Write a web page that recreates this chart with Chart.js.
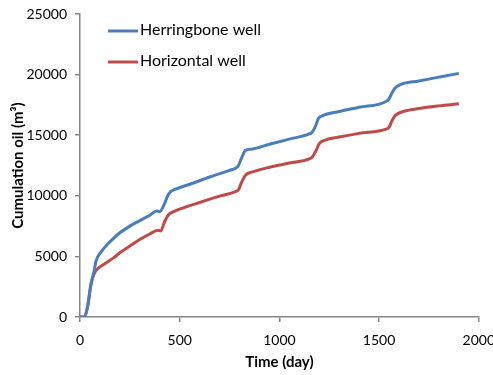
<!DOCTYPE html>
<html>
<head>
<meta charset="utf-8">
<script src="https://cdn.jsdelivr.net/npm/chart.js@4/dist/chart.umd.min.js"></script>
<style>
  html, body { margin: 0; padding: 0; background: #fff; overflow: hidden; }
  #wrap { width: 505px; height: 375px; position: relative; }
</style>
</head>
<body>
<div id="wrap"><canvas id="oilChart"></canvas></div>
<script>
// Cumulative oil (m3) vs time (day)
const blueDays = [0, 22, 38, 55, 72, 80, 105, 150, 200, 250, 300, 350, 385, 400, 420, 440, 455, 480,
                  550, 650, 750, 780, 795, 810, 830, 860, 950, 1050, 1150, 1165, 1180, 1195, 1215,
                  1300, 1400, 1535, 1550, 1565, 1580, 1610, 1700, 1800, 1900];
const blueOil  = [0, 0, 850, 2700, 3900, 4600, 5350, 6200, 6950, 7500, 7950, 8400, 8750, 8700, 9200, 10000, 10350, 10550,
                  10950, 11550, 12100, 12270, 12500, 13100, 13750, 13850, 14250, 14680, 15100, 15250, 15700, 16350, 16600,
                  16950, 17300, 17780, 18000, 18500, 18900, 19200, 19480, 19790, 20100];

const redDays = [0, 22, 38, 55, 72, 90, 130, 170, 200, 250, 300, 350, 390, 405, 425, 445, 470, 500,
                 600, 700, 780, 795, 810, 830, 870, 950, 1050, 1150, 1165, 1180, 1200, 1230,
                 1300, 1400, 1535, 1550, 1565, 1580, 1620, 1700, 1800, 1900];
const redOil  = [0, 0, 850, 2700, 3600, 4000, 4450, 4900, 5300, 5850, 6400, 6850, 7150, 7100, 7900, 8450, 8700, 8900,
                 9450, 9970, 10350, 10500, 11100, 11700, 11990, 12350, 12700, 13050, 13200, 13600, 14300, 14600,
                 14850, 15150, 15500, 15650, 16200, 16600, 16950, 17200, 17420, 17600];

const seriesNames = ['Herringbone well', 'Horizontal well'];
const seriesColors = ['#4A7EBB', '#BE4B48'];

const axisGrey = '#868686';
const fontFamily = 'Lato, "Open Sans", sans-serif';

function toPoints(days, vals) {
    return days.map((d, i) => ({ x: d, y: vals[i] }));
}

// legend drawn inside the plot, Excel style
const insideLegend = {
    id: 'insideLegend',
    afterDraw(chart) {
        const ctx = chart.ctx;
        const rows = [31, 62];
        ctx.save();
        ctx.font = '16px ' + fontFamily;
        ctx.textBaseline = 'middle';
        ctx.textAlign = 'left';
        chart.data.datasets.forEach((ds, i) => {
            const y = rows[i];
            ctx.strokeStyle = ds.borderColor;
            ctx.lineWidth = 3;
            ctx.beginPath();
            ctx.moveTo(108, y);
            ctx.lineTo(138, y);
            ctx.stroke();
            ctx.fillStyle = '#000';
            ctx.fillText(ds.label, 140, y - 1);
        });
        ctx.restore();
    }
};

const ctx = document.getElementById('oilChart').getContext('2d');
const oilChart = new Chart(ctx, {
    type: 'line',
    data: {
        datasets: [
            {
                label: seriesNames[0],
                data: toPoints(blueDays, blueOil),
                borderColor: seriesColors[0],
                borderWidth: 3,
                pointRadius: 0,
                cubicInterpolationMode: 'monotone',
                fill: false
            },
            {
                label: seriesNames[1],
                data: toPoints(redDays, redOil),
                borderColor: seriesColors[1],
                borderWidth: 3,
                pointRadius: 0,
                cubicInterpolationMode: 'monotone',
                fill: false
            }
        ]
    },
    options: {
        responsive: true,
        maintainAspectRatio: false,
        animation: false,
        layout: {
            padding: { top: 14, right: 17, bottom: 0, left: 0 }
        },
        plugins: {
            legend: { display: false },
            tooltip: { enabled: false }
        },
        scales: {
            x: {
                type: 'linear',
                min: 0,
                max: 2000,
                ticks: {
                    stepSize: 500,
                    padding: 10,
                    color: '#000',
                    font: { family: fontFamily, size: 14 },
                    callback: v => String(v)
                },
                grid: { drawOnChartArea: false, tickLength: 5, color: axisGrey, lineWidth: 1.5 },
                border: { color: axisGrey, width: 1.5 },
                title: {
                    display: true,
                    text: 'Time (day)',
                    color: '#000',
                    font: { family: fontFamily, size: 15, weight: 'bold' },
                    padding: { top: 0, bottom: 4 }
                },
                afterFit(scale) { scale.height = 58; }
            },
            y: {
                min: 0,
                max: 25000,
                ticks: {
                    stepSize: 5000,
                    padding: 8,
                    color: '#000',
                    font: { family: fontFamily, size: 14 },
                    callback: v => String(v)
                },
                grid: { drawOnChartArea: false, tickLength: 5, color: axisGrey, lineWidth: 1.5 },
                border: { color: axisGrey, width: 1.5 },
                title: {
                    display: true,
                    text: 'Cumulation oil (m³)',
                    color: '#000',
                    font: { family: fontFamily, size: 15, weight: 'bold' },
                    padding: { top: 9, bottom: 0 }
                },
                afterFit(scale) {
                    scale.width = 80;
                    scale.paddingTop = 0;
                    scale.paddingBottom = 0;
                }
            }
        }
    },
    plugins: [insideLegend]
});
</script>
</body>
</html>
